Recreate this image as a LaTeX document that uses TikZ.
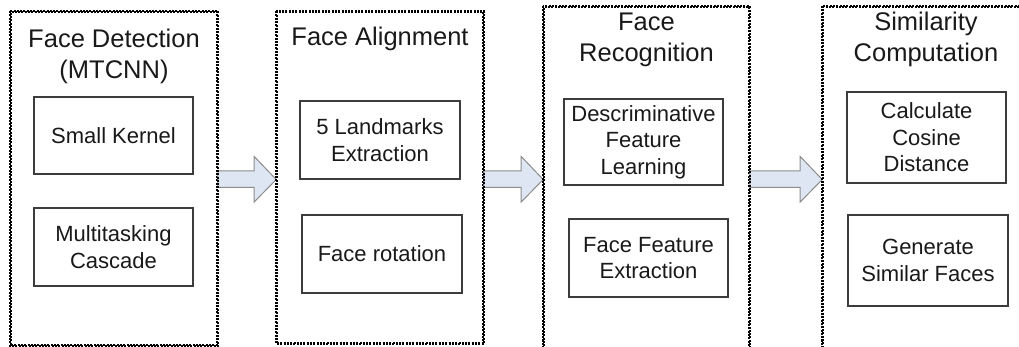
\documentclass[tikz,border=0pt]{standalone}
\usepackage{fontspec}
\setmainfont{Liberation Sans}
\usetikzlibrary{calc}

\definecolor{arrowfill}{RGB}{221,230,242}
\definecolor{arrowline}{RGB}{140,140,140}
\definecolor{boxline}{RGB}{60,60,60}
\definecolor{ink}{RGB}{25,25,25}

\tikzset{
  stage/.style={draw=black, line width=1.6pt, dash pattern=on 2pt off 1.3pt,
    rectangle, inner sep=0pt},
  stagetitle/.style={align=center, text=ink, inner sep=0pt,
    font=\fontsize{25.5}{31}\selectfont},
  task/.style={draw=boxline, line width=1.2pt, rectangle, inner sep=0pt,
    align=center, text=ink, font=\fontsize{22}{26.5}\selectfont},
  blockarrow/.style={fill=arrowfill, draw=arrowline, line width=1pt, line join=miter}
}

% block arrow between the east side of one stage and the west side of the next
\newcommand\flowarrow[2]{%
  \draw[blockarrow] let \p1=(#1.east), \p2=(#2.west) in
    (\x1,171) -- (\x2-22pt,171) -- (\x2-22pt,156.5) -- (\x2,179.5)
    -- (\x2-22pt,202) -- (\x2-22pt,187.5) -- (\x1,187.5) -- cycle;}

\begin{document}
\begin{tikzpicture}[x=1pt,y=-1pt]
\useasboundingbox (0,0) rectangle (1019,347);
\clip (0,0) rectangle (1019,347);

% pipeline stages
\node[stage, minimum width=206pt, minimum height=333pt] (s1) at (114,178.5) {};
\node[stage, minimum width=206pt, minimum height=331pt] (s2) at (380,177.5) {};
\node[stage, minimum width=205pt, minimum height=345pt] (s3) at (646.5,179.5) {};
\node[stage, minimum width=206pt, minimum height=345pt] (s4) at (926,179.5) {};

% arrows between stages
\flowarrow{s1}{s2}
\flowarrow{s2}{s3}
\flowarrow{s3}{s4}

% redraw stage borders over the arrow ends
\foreach \s in {s1,s2,s3,s4}
  \draw[stage] (\s.north west) rectangle (\s.south east);

% stage titles
\node[stagetitle] (t1) at (114,56) {Face Detection\\(MTCNN)};
\node[stagetitle] (t2) at (380,39) {Face Alignment};
\node[stagetitle] (t3) at (646.5,40) {Face\\Recognition};
\node[stagetitle] (t4) at (926,39.5) {Similarity\\Computation};

% tasks inside each stage
\node[task, minimum width=159pt, minimum height=77pt] (a1) at (113.5,135.5) {Small Kernel};
\node[task, minimum width=159pt, minimum height=78pt] (b1) at (113.5,247) {Multitasking\\Cascade};

\node[task, minimum width=160pt, minimum height=78pt] (a2) at (380,140) {5 Landmarks\\Extraction};
\node[task, minimum width=160pt, minimum height=78pt] (b2) at (382,254) {Face rotation};

\node[task, minimum width=159pt, minimum height=86pt] (a3) at (643.5,142) {Descriminative\\Feature\\Learning};
\node[task, minimum width=159pt, minimum height=78pt] (b3) at (648.5,258) {Face Feature\\Extraction};

\node[task, minimum width=159pt, minimum height=91pt] (a4) at (926.5,137.5) {Calculate\\Cosine\\Distance};
\node[task, minimum width=160pt, minimum height=91pt] (b4) at (928,260.5) {Generate\\Similar Faces};
\end{tikzpicture}
\end{document}
